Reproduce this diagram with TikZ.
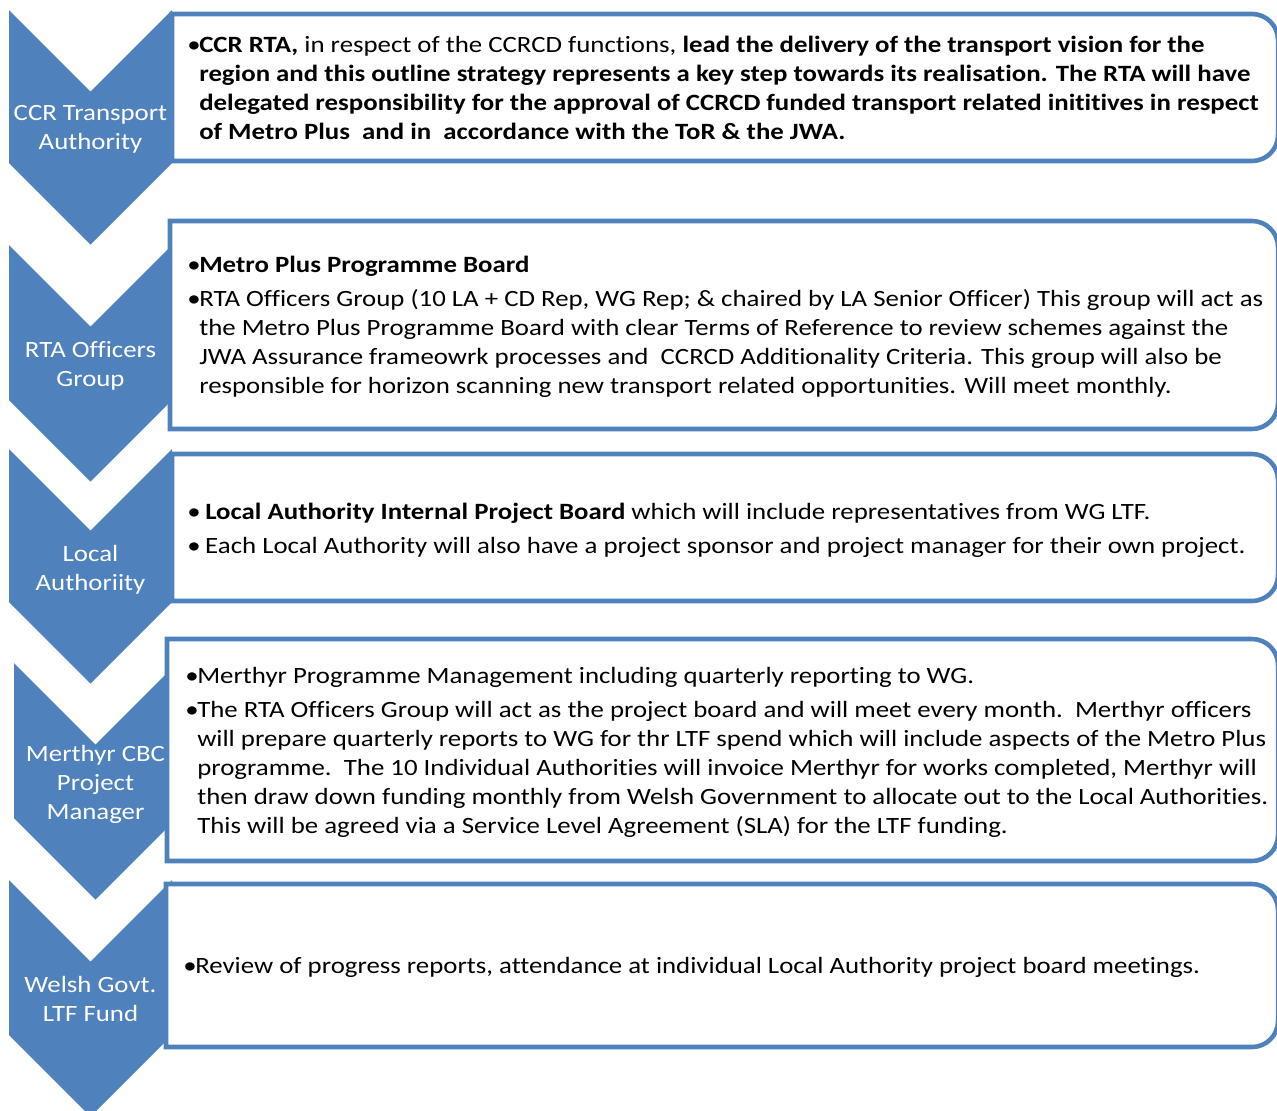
\documentclass[tikz,border=0pt]{standalone}
\usepackage{fontspec}
\setmainfont{Carlito}[FakeStretch=1.15, Ligatures=NoCommon]
\usetikzlibrary{calc}
\definecolor{chevblue}{HTML}{4F81BD}

\newcommand{\bul}{\makebox[9pt][l]{\textbullet}}
\newcommand{\ind}{\hspace*{9pt}}

\begin{document}
\begin{tikzpicture}[x=0.75pt, y=-0.75pt,
    chev/.style={fill=chevblue},
    box/.style={draw=chevblue, fill=white, line width=3.4pt},
    lbl/.style={text=white, align=center, inner sep=0, font=\fontsize{17.5}{21.75}\selectfont},
    txt/.style={anchor=west, align=left, inner sep=0, font=\fontsize{17.5}{21.75}\selectfont}]

    \useasboundingbox (0,0) rectangle (1277,1110);
    \clip (0,0) rectangle (1277,1110);

    % chevrons
    \fill[chev] (9,10) -- (90.5,91.5) -- (172,10) -- (172,163) -- (90.5,244.5) -- (9,163) -- cycle;
    \fill[chev] (9,245) -- (90.5,326.5) -- (172,245) -- (172,400) -- (90.5,481.5) -- (9,400) -- cycle;
    \fill[chev] (9,449) -- (90.5,530.5) -- (172,449) -- (172,602) -- (90.5,683.5) -- (9,602) -- cycle;
    \fill[chev] (14,663) -- (95.5,744.5) -- (177,663) -- (177,818) -- (95.5,899.5) -- (14,818) -- cycle;
    \fill[chev] (9,880) -- (90.5,961.5) -- (172,880) -- (172,1035) -- (90.5,1116.5) -- (9,1035) -- cycle;

    % boxes
    \draw[box] (172,14) -- (1252,14) arc[start angle=-90, end angle=0, radius=26]
        -- (1278,135) arc[start angle=0, end angle=90, radius=26] -- (172,161) -- cycle;
    \draw[box] (170,221) -- (1252,221) arc[start angle=-90, end angle=0, radius=26]
        -- (1278,403) arc[start angle=0, end angle=90, radius=26] -- (170,429) -- cycle;
    \draw[box] (172,454) -- (1252,454) arc[start angle=-90, end angle=0, radius=26]
        -- (1278,575) arc[start angle=0, end angle=90, radius=26] -- (172,601) -- cycle;
    \draw[box] (167,639) -- (1252,639) arc[start angle=-90, end angle=0, radius=26]
        -- (1278,835) arc[start angle=0, end angle=90, radius=26] -- (167,861) -- cycle;
    \draw[box] (166,884) -- (1252,884) arc[start angle=-90, end angle=0, radius=26]
        -- (1278,1021) arc[start angle=0, end angle=90, radius=26] -- (166,1047) -- cycle;

    \node[lbl] (rta) at (90.5,129.5) {CCR Transport\\Authority};
    \node[lbl] (officers) at (90.5,365.5) {RTA Officers\\Group};
    \node[lbl] (local) at (90.5,569.5) {Local\\Authoriity};
    \node[lbl] (merthyr) at (95.5,784) {Merthyr CBC\\Project\\Manager};
    \node[lbl] (welsh) at (90.5,998.5) {Welsh Govt.\\LTF Fund};

    \node[txt] (rta-txt) at (187,87.5) {\bul\textbf{CCR RTA,} in respect of the CCRCD functions, \textbf{lead the delivery of the transport vision for the}\\
        \ind\textbf{region and this outline strategy represents a key step towards its realisation. The RTA will have}\\
        \ind\textbf{delegated responsibility for the approval of CCRCD funded transport related inititives in respect}\\
        \ind\textbf{of Metro Plus\ \ and in\ \ accordance with the ToR \& the JWA.}};

    \node[txt] (officers-txt) at (187,326.5) {\bul\textbf{Metro Plus Programme Board}\\[4pt]
        \bul RTA Officers Group (10 LA + CD Rep, WG Rep; \& chaired by LA Senior Officer) This group will act as\\
        \ind the Metro Plus Programme Board with clear Terms of Reference to review schemes against the\\
        \ind JWA Assurance frameowrk processes and\ \ CCRCD Additionality Criteria. This group will also be\\
        \ind responsible for horizon scanning new transport related opportunities. Will meet monthly.};

    \node[txt] (local-txt) at (187,530.5) {\makebox[13.5pt][l]{\textbullet}\textbf{Local Authority Internal Project Board} which will include representatives from WG LTF.\\[4pt]
        \makebox[13.5pt][l]{\textbullet}Each Local Authority will also have a project sponsor and project manager for their own project.};

    \node[txt] (merthyr-txt) at (185,752.5) {\bul Merthyr Programme Management including quarterly reporting to WG.\\[4pt]
        \bul The RTA Officers Group will act as the project board and will meet every month.\ \ Merthyr officers\\
        \ind will prepare quarterly reports to WG for thr LTF spend which will include aspects of the Metro Plus\\
        \ind programme.\ \ The 10 Individual Authorities will invoice Merthyr for works completed, Merthyr will\\
        \ind then draw down funding monthly from Welsh Government to allocate out to the Local Authorities.\\
        \ind This will be agreed via a Service Level Agreement (SLA) for the LTF funding.};

    \node[txt] (welsh-txt) at (183,967.5) {\bul Review of progress reports, attendance at individual Local Authority project board meetings.};

\end{tikzpicture}
\end{document}
